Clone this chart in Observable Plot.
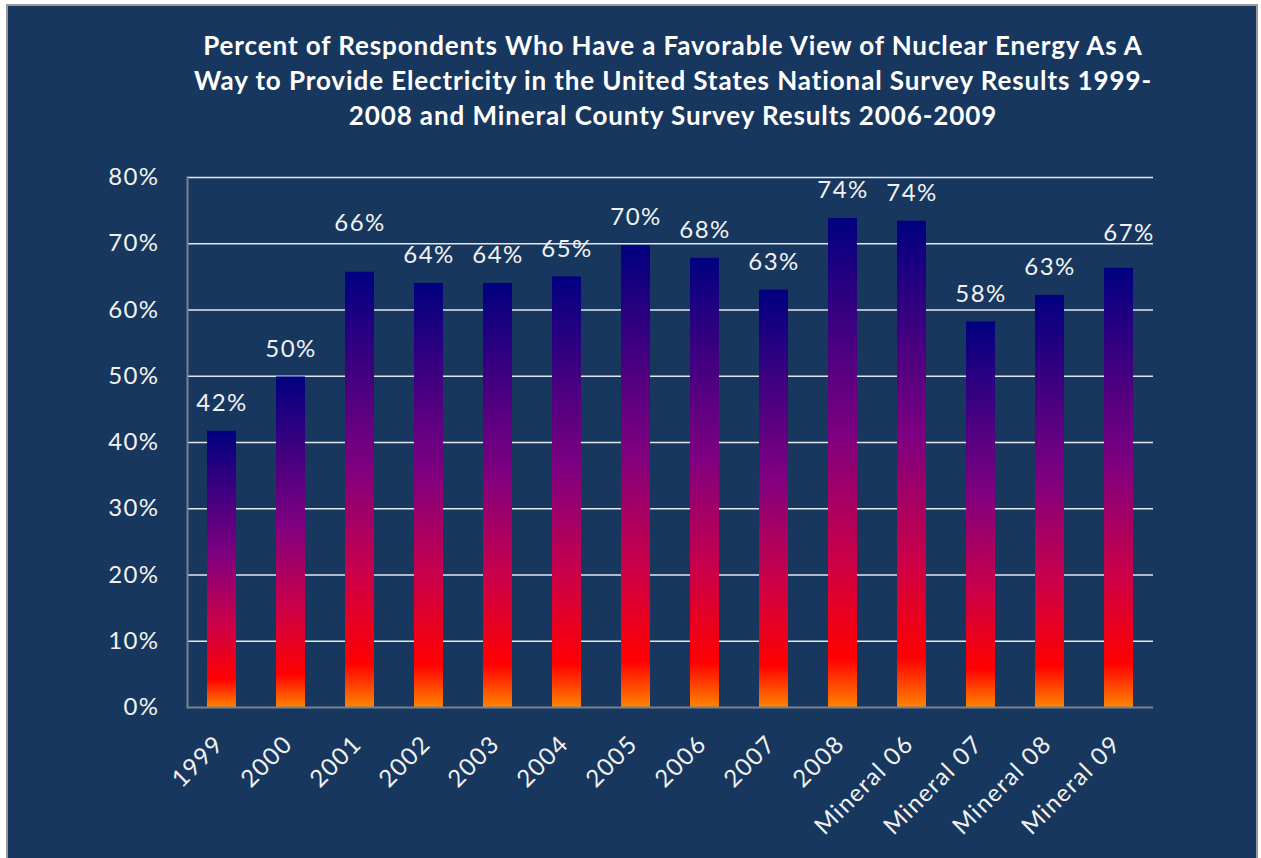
<!DOCTYPE html>
<html>
<head>
<meta charset="utf-8">
<script src="https://cdn.jsdelivr.net/npm/d3@7"></script>
<script src="https://cdn.jsdelivr.net/npm/@observablehq/plot@0.6"></script>
<style>
  html, body { margin: 0; padding: 0; background: #ffffff; }
  #frame {
    position: absolute; left: 6px; top: 4px; width: 1248px; height: 860px;
    background: #17375E;
    border-left: 2px solid #9a9a9a; border-top: 2px solid #9a9a9a; border-right: 2px solid #9a9a9a;
    overflow: hidden;
  }
  #title {
    position: absolute; left: 165px; top: 22px; width: 1000px;
    text-align: center; color: #ffffff;
    font: bold 26px/35px Lato, sans-serif; letter-spacing: 0.9px;
  }
  #chart { position: absolute; left: 0; top: 134px; }
  #chart svg text { letter-spacing: 1.4px; }
</style>
</head>
<body>
<div id="frame">
  <div id="title">Percent of Respondents Who Have a Favorable View of Nuclear Energy As A<br>Way to Provide Electricity in the United States National Survey Results 1999-<br>2008 and Mineral County Survey Results 2006-2009</div>
  <div id="chart"></div>
</div>
<script>
// ---- data ----
const categories = ["1999", "2000", "2001", "2002", "2003", "2004", "2005", "2006", "2007", "2008",
  "Mineral 06", "Mineral 07", "Mineral 08", "Mineral 09"];
const values = [41.7, 49.9, 65.7, 64.0, 64.0, 65.0, 69.7, 67.8, 63.0, 73.8, 73.4, 58.2, 62.2, 66.3];
const valueLabels = ["42%", "50%", "66%", "64%", "64%", "65%", "70%", "68%", "63%", "74%", "74%", "58%", "63%", "67%"];
const yTicks = [0, 10, 20, 30, 40, 50, 60, 70, 80];

const rows = categories.map((c, i) => ({cat: c, value: values[i], label: valueLabels[i]}));
const raised = new Set(["2001"]);          // label moved up in the original
const shifted = new Set(["Mineral 09"]);   // label moved up/right in the original
const normal = rows.filter(d => !raised.has(d.cat) && !shifted.has(d.cat));

const textColor = "#f2f2f2";

const chart = Plot.plot({
  width: 1248,
  height: 718,
  marginLeft: 179,
  marginRight: 103,
  marginTop: 37,
  marginBottom: 151,
  style: {background: "transparent", color: textColor, fontFamily: "Lato, sans-serif", fontSize: "24px", overflow: "visible"},
  x: {domain: categories, paddingInner: 0.58, paddingOuter: 0.29, axis: null},
  y: {domain: [0, 80], axis: null},
  marks: [
    Plot.gridY(yTicks.filter(t => t > 0), {stroke: "#e4e8ee", strokeOpacity: 1, strokeWidth: 1.6}),
    Plot.barY(rows, {x: "cat", y: "value", fill: "url(#fireGrad)", inset: 0}),
    Plot.ruleY([0], {stroke: "#7a828c", strokeWidth: 2.2}),
    Plot.frame({anchor: "left", stroke: "#7a828c", strokeWidth: 2}),
    Plot.axisY(yTicks, {tickSize: 0, tickPadding: 28, tickFormat: d => d + "%", fill: textColor, fontSize: 24, label: null}),
    Plot.text(normal, {x: "cat", y: "value", text: "label", dy: -28, fill: textColor, fontSize: 24}),
    Plot.text(rows.filter(d => raised.has(d.cat)), {x: "cat", y: "value", text: "label", dy: -49, fill: textColor, fontSize: 24}),
    Plot.text(rows.filter(d => shifted.has(d.cat)), {x: "cat", y: "value", text: "label", dy: -35, dx: 10, fill: textColor, fontSize: 24}),
    Plot.text(categories, {x: d => d, frameAnchor: "bottom", rotate: -45, textAnchor: "end", dy: 38, dx: 3, fill: textColor, fontSize: 24})
  ]
});

// gradient for the bars (bottom orange -> red -> purple -> navy top)
const defs = d3.select(chart).insert("defs", ":first-child");
const grad = defs.append("linearGradient")
  .attr("id", "fireGrad")
  .attr("x1", 0).attr("y1", 1).attr("x2", 0).attr("y2", 0);
[[0, "#ff8400"], [0.1, "#ff0000"], [0.3, "#cc0048"], [0.55, "#800080"], [1, "#000080"]]
  .forEach(([o, c]) => grad.append("stop").attr("offset", o).attr("stop-color", c));

document.getElementById("chart").appendChild(chart);
</script>
</body>
</html>
